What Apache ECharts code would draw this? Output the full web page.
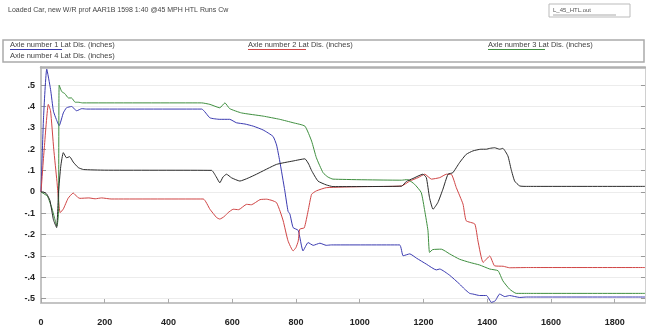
<!DOCTYPE html>
<html>
<head>
<meta charset="utf-8">
<script src="https://cdn.jsdelivr.net/npm/echarts@6/dist/echarts.min.js"></script>
<style>
  html, body { margin: 0; padding: 0; background: #fff; }
  #chart { width: 646px; height: 333px; }
</style>
</head>
<body>
<div id="chart"></div>
<script>
const titleText = "Loaded Car, new W/R prof AAR1B 1598 1:40 @45 MPH HTL Runs Cw";
const fileName = "L_45_HTL.out";
const seriesNames = [
  "Axle number 1 Lat Dis. (inches)",
  "Axle number 2 Lat Dis. (inches)",
  "Axle number 3 Lat Dis. (inches)",
  "Axle number 4 Lat Dis. (inches)"
];
const xTicks = [0, 200, 400, 600, 800, 1000, 1200, 1400, 1600, 1800];
const yTicks = [-0.5, -0.4, -0.3, -0.2, -0.1, 0, 0.1, 0.2, 0.3, 0.4, 0.5];

// [distance, lateral displacement]
const axle1 = [[0,0],[8,0.35],[18,0.575],[30,0.48],[39,0.378],[48,0.34],[57,0.31],[70,0.37],[80,0.394],[96,0.40],[112,0.38],[128,0.39],[143,0.388],[504,0.388],[530,0.347],[561,0.34],[592,0.34],[613,0.324],[640,0.318],[666,0.308],[697,0.29],[728,0.26],[739,0.22],[749,0.145],[765,0.005],[775,-0.09],[781,-0.104],[791,-0.167],[807,-0.18],[822,-0.276],[838,-0.237],[854,-0.25],[875,-0.24],[895,-0.25],[911,-0.248],[1125,-0.248],[1136,-0.299],[1157,-0.29],[1178,-0.31],[1209,-0.338],[1240,-0.365],[1251,-0.361],[1282,-0.39],[1313,-0.431],[1329,-0.455],[1345,-0.475],[1355,-0.478],[1376,-0.485],[1398,-0.485],[1413,-0.517],[1425,-0.51],[1439,-0.478],[1455,-0.49],[1470,-0.485],[1502,-0.494],[1523,-0.492],[1895,-0.492]];
const axle2 = [[0,0],[10,0.2],[23,0.41],[30,0.38],[40,0.2],[50,0.05],[60,-0.097],[70,-0.08],[85,-0.03],[101,-0.005],[115,-0.025],[122,-0.03],[150,-0.028],[170,-0.032],[190,-0.028],[220,-0.033],[509,-0.033],[530,-0.081],[551,-0.12],[561,-0.127],[575,-0.115],[587,-0.097],[603,-0.081],[620,-0.083],[645,-0.058],[660,-0.06],[687,-0.036],[708,-0.034],[725,-0.04],[739,-0.05],[750,-0.09],[760,-0.136],[775,-0.229],[791,-0.276],[800,-0.26],[807,-0.23],[812,-0.174],[826,-0.168],[838,-0.089],[849,-0.011],[864,0.005],[895,0.02],[1010,0.025],[1131,0.028],[1157,0.051],[1183,0.067],[1204,0.083],[1225,0.06],[1251,0.067],[1272,0.083],[1287,0.083],[1303,0.02],[1324,-0.057],[1334,-0.135],[1361,-0.15],[1371,-0.23],[1387,-0.33],[1408,-0.3],[1423,-0.346],[1450,-0.348],[1470,-0.355],[1523,-0.354],[1895,-0.354]];
const axle3 = [[0,0],[20,-0.02],[35,-0.08],[50,-0.16],[55,-0.1],[57,0.5],[65,0.47],[75,0.46],[86,0.44],[96,0.44],[107,0.42],[117,0.42],[130,0.417],[504,0.417],[530,0.41],[561,0.394],[577,0.417],[592,0.39],[629,0.37],[697,0.355],[749,0.34],[791,0.324],[828,0.308],[849,0.238],[864,0.16],[885,0.09],[900,0.07],[916,0.06],[1131,0.055],[1150,0.058],[1172,0.036],[1193,-0.003],[1204,-0.089],[1214,-0.18],[1219,-0.283],[1229,-0.27],[1256,-0.268],[1282,-0.29],[1313,-0.315],[1345,-0.33],[1376,-0.342],[1408,-0.361],[1434,-0.369],[1449,-0.416],[1470,-0.455],[1491,-0.475],[1523,-0.475],[1895,-0.475]];
const axle4 = [[0,0],[7,0],[18,-0.01],[28,-0.04],[39,-0.13],[49,-0.167],[55,0.0],[62,0.12],[70,0.184],[80,0.16],[90,0.165],[101,0.14],[117,0.114],[133,0.105],[200,0.102],[535,0.101],[550,0.07],[561,0.043],[571,0.07],[582,0.083],[598,0.066],[624,0.051],[650,0.065],[676,0.083],[739,0.129],[791,0.145],[828,0.155],[840,0.13],[849,0.1],[869,0.051],[895,0.033],[916,0.025],[1131,0.027],[1147,0.05],[1167,0.063],[1198,0.083],[1209,0.067],[1219,-0.027],[1230,-0.081],[1245,-0.05],[1261,0.013],[1277,0.083],[1292,0.09],[1313,0.137],[1334,0.176],[1355,0.192],[1380,0.2],[1397,0.2],[1408,0.204],[1423,0.207],[1439,0.2],[1449,0.204],[1465,0.168],[1475,0.106],[1486,0.051],[1502,0.028],[1523,0.026],[1895,0.026]];

const colors = ["#3a3ab0", "#d04545", "#3f8f3f", "#2b2b2b"];
const allData = [axle1, axle2, axle3, axle4];

const chart = echarts.init(document.getElementById("chart"), null, { renderer: "canvas" });

const fmtY = (v) => {
  if (Math.abs(v) < 1e-9) return "0";
  return (v < 0 ? "-" : "") + "." + Math.round(Math.abs(v) * 10);
};

const font = "Liberation Sans, Arial, sans-serif";

const option = {
  animation: false,
  backgroundColor: "#fff",
  grid: { left: 41, right: 1, top: 67, bottom: 30, show: false },
  graphic: [
    { type: "text", left: 8, top: 7, style: { text: titleText, font: "7px " + font, fill: "#444" } },
    { type: "rect", shape: { x: 549, y: 4, width: 81, height: 13 }, style: { fill: "#fff", stroke: "#bbb", lineWidth: 1 } },
    { type: "text", x: 553, y: 7, style: { text: fileName, font: "6px " + font, fill: "#555" } },
    { type: "line", shape: { x1: 553, y1: 15, x2: 616, y2: 15 }, style: { stroke: "#aaa", lineWidth: 1 } },
    { type: "rect", shape: { x: 3, y: 40, width: 641, height: 22 }, style: { fill: "#fff", stroke: "#aaa", lineWidth: 1.5 } },
    { type: "text", x: 10, y: 41, style: { text: seriesNames[0], font: "7.5px " + font, fill: "#444" } },
    { type: "line", shape: { x1: 10, y1: 49.5, x2: 62, y2: 49.5 }, style: { stroke: colors[0], lineWidth: 1 } },
    { type: "text", x: 248, y: 41, style: { text: seriesNames[1], font: "7.5px " + font, fill: "#444" } },
    { type: "line", shape: { x1: 248, y1: 49.5, x2: 306, y2: 49.5 }, style: { stroke: colors[1], lineWidth: 1 } },
    { type: "text", x: 488, y: 41, style: { text: seriesNames[2], font: "7.5px " + font, fill: "#444" } },
    { type: "line", shape: { x1: 488, y1: 49.5, x2: 545, y2: 49.5 }, style: { stroke: colors[2], lineWidth: 1 } },
    { type: "text", x: 10, y: 52, style: { text: seriesNames[3], font: "7.5px " + font, fill: "#444" } }
  ],
  xAxis: [
    {
      type: "value", min: 0, max: 1895, interval: 200,
      axisLine: { onZero: false, lineStyle: { color: "#c4c4c4", width: 2 } },
      axisTick: { inside: true, length: 4, customValues: xTicks, lineStyle: { color: "#aaa" } },
      axisLabel: { customValues: xTicks, formatter: (v) => String(v), margin: 15, fontSize: 9, fontWeight: "bold", color: "#222", fontFamily: font },
      splitLine: { show: false }
    },
    {
      type: "value", position: "top", min: 0, max: 1895,
      axisLine: { onZero: false, lineStyle: { color: "#b0b0b0", width: 2.5 } },
      axisTick: { show: false }, axisLabel: { show: false }, splitLine: { show: false }
    }
  ],
  yAxis: [
    {
      type: "value", min: -0.52, max: 0.585,
      axisLine: { show: true, onZero: false, lineStyle: { color: "#c4c4c4", width: 2 } },
      axisTick: { inside: true, length: 5, customValues: yTicks, lineStyle: { color: "#999" } },
      axisLabel: { customValues: yTicks, formatter: fmtY, margin: 6, fontSize: 9, fontWeight: "bold", color: "#222", fontFamily: font },
      splitLine: { show: true, lineStyle: { color: "#ececec", width: 1 } }
    },
    {
      type: "value", position: "right", min: -0.52, max: 0.585,
      axisLine: { show: true, onZero: false, lineStyle: { color: "#d0d0d0", width: 1 } },
      axisTick: { inside: true, length: 4, customValues: yTicks, lineStyle: { color: "#999" } },
      axisLabel: { show: false }, splitLine: { show: false }
    }
  ],
  series: allData.map((d, i) => ({
    name: seriesNames[i],
    type: "line",
    data: d,
    xAxisIndex: 0,
    yAxisIndex: 0,
    showSymbol: false,
    smooth: 0.15,
    lineStyle: { color: colors[i], width: 1 },
    itemStyle: { color: colors[i] }
  }))
};

chart.setOption(option);
</script>
</body>
</html>
